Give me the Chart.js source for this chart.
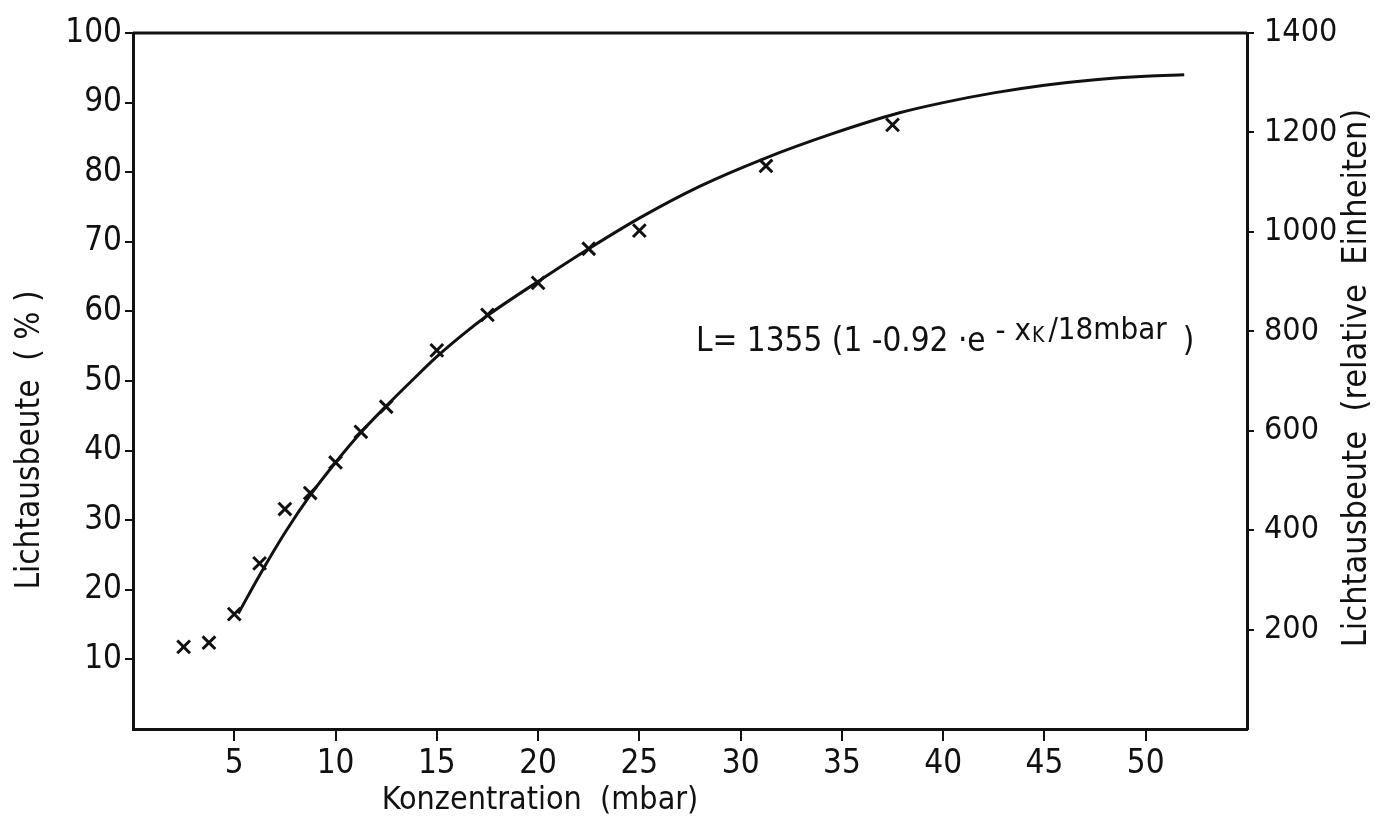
<!DOCTYPE html>
<html>
<head>
<meta charset="utf-8">
<script src="https://cdn.jsdelivr.net/npm/chart.js@4.4.1/dist/chart.umd.min.js"></script>
<style>
  html, body { margin: 0; padding: 0; background: #ffffff; }
  #wrap { width: 1384px; height: 830px; position: relative; }
</style>
</head>
<body>
<div id="wrap"><canvas id="c" width="1384" height="830"></canvas></div>
<script>
// ---- data ----
const measX = [2.5, 3.75, 5, 6.25, 7.5, 8.75, 10, 11.25, 12.5, 15, 17.5, 20, 22.5, 25, 31.25, 37.5];
const measY = [11.8, 12.4, 16.5, 23.8, 31.6, 33.9, 38.3, 42.7, 46.3, 54.4, 59.5, 64.1, 69.0, 71.6, 80.9, 86.8];
const curveX = [5.2, 6.25, 7.5, 8.75, 10, 11.25, 12.5, 13.75, 15, 16.25, 17.5, 20, 22.5, 25, 28, 31.2, 34.5, 37.8, 40, 42.5, 45, 47.5, 50, 51.9];
const curveY = [16.6, 22.1, 28.2, 33.6, 38.3, 42.6, 46.4, 50.0, 53.5, 56.6, 59.4, 64.3, 69.0, 73.4, 78.0, 82.0, 85.5, 88.5, 90.0, 91.4, 92.5, 93.3, 93.8, 94.0];
const xTicks = [5, 10, 15, 20, 25, 30, 35, 40, 45, 50];
const yLeftTicks = [10, 20, 30, 40, 50, 60, 70, 80, 90, 100];
const yRightTicks = [200, 400, 600, 800, 1000, 1200, 1400];
const xTitle = 'Konzentration  (mbar)';
const yLeftTitle = 'Lichtausbeute  ( % )';
const yRightTitle = 'Lichtausbeute  (relative  Einheiten)';

const FONT = '"DejaVu Sans Condensed", "Liberation Sans", sans-serif';
const INK = '#111111';

const textPlugin = {
  id: 'texts',
  afterDraw(chart) {
    const ctx = chart.ctx;
    const a = chart.chartArea;
    ctx.save();
    // top frame line
    ctx.strokeStyle = INK;
    ctx.lineWidth = 3;
    ctx.beginPath();
    ctx.moveTo(a.left, a.top);
    ctx.lineTo(a.right, a.top);
    ctx.stroke();

    ctx.fillStyle = INK;
    ctx.textBaseline = 'middle';
    ctx.textAlign = 'center';
    // x title
    ctx.font = '32px ' + FONT;
    ctx.fillText(xTitle, 540, 801);
    // left title
    ctx.save();
    ctx.translate(30, 440);
    ctx.rotate(-Math.PI / 2);
    ctx.font = '33px ' + FONT;
    ctx.fillText(yLeftTitle, 0, 0);
    ctx.restore();
    // right title
    ctx.save();
    ctx.translate(1357, 378);
    ctx.rotate(-Math.PI / 2);
    ctx.font = '34px ' + FONT;
    ctx.fillText(yRightTitle, 0, 0);
    ctx.restore();

    // formula
    ctx.textAlign = 'left';
    ctx.textBaseline = 'alphabetic';
    let x = 696;
    const base = 351;
    ctx.font = '33px ' + FONT;
    const p1 = 'L= 1355 (1 -0.92 \u00b7e';
    ctx.fillText(p1, x, base);
    x += ctx.measureText(p1).width + 10;
    ctx.font = '31px ' + FONT;
    const p2 = '- x';
    ctx.fillText(p2, x, base - 11);
    x += ctx.measureText(p2).width + 1;
    ctx.font = '21px ' + FONT;
    ctx.fillText('K', x, base - 9);
    x += ctx.measureText('K').width + 4;
    ctx.font = '31px ' + FONT;
    const p3 = '/18mbar';
    ctx.fillText(p3, x, base - 12);
    x += ctx.measureText(p3).width + 16;
    ctx.font = '33px ' + FONT;
    ctx.fillText(')', x, base);
    ctx.restore();
  }
};

const tickColor = (allowed) => (c) => (c.tick && allowed.includes(c.tick.value)) ? INK : 'rgba(0,0,0,0)';

new Chart(document.getElementById('c'), {
  type: 'scatter',
  data: {
    datasets: [
      {
        label: 'Messwerte',
        data: measX.map((v, i) => ({ x: v, y: measY[i] })),
        pointStyle: 'crossRot',
        pointRadius: 9,
        pointBorderWidth: 3,
        borderColor: INK,
        backgroundColor: INK,
        showLine: false,
        yAxisID: 'y'
      },
      {
        label: 'Kurve',
        data: curveX.map((v, i) => ({ x: v, y: curveY[i] })),
        showLine: true,
        pointRadius: 0,
        borderColor: INK,
        borderWidth: 3,
        cubicInterpolationMode: 'monotone',
        fill: false,
        yAxisID: 'y'
      }
    ]
  },
  options: {
    responsive: false,
    animation: false,
    devicePixelRatio: 1,
    layout: { padding: { top: 33, left: 0, right: 0, bottom: 0 } },
    plugins: { legend: { display: false }, tooltip: { enabled: false } },
    scales: {
      x: {
        type: 'linear',
        min: 0, max: 55,
        afterBuildTicks: (s) => { s.ticks = [0].concat(xTicks, [55]).map(v => ({ value: v })); },
        afterFit: (s) => { s.height = 101; },
        ticks: {
          color: INK,
          font: { family: FONT, size: 33 },
          padding: 4,
          maxRotation: 0,
          callback: (v) => xTicks.includes(v) ? String(v) : ''
        },
        grid: { drawOnChartArea: false, drawTicks: true, tickLength: 12, lineWidth: 2, color: tickColor(xTicks) },
        border: { display: true, color: INK, width: 3 }
      },
      y: {
        type: 'linear',
        position: 'left',
        min: 0, max: 100,
        afterBuildTicks: (s) => { s.ticks = [0].concat(yLeftTicks).map(v => ({ value: v })); },
        afterFit: (s) => { s.width = 133; },
        ticks: {
          color: INK,
          font: { family: FONT, size: 33 },
          padding: 3,
          callback: (v) => yLeftTicks.includes(v) ? String(v) : ''
        },
        grid: { drawOnChartArea: false, drawTicks: true, tickLength: 8, lineWidth: 2, color: tickColor(yLeftTicks) },
        border: { display: true, color: INK, width: 3 }
      },
      y2: {
        type: 'linear',
        position: 'right',
        min: 0, max: 1400,
        afterBuildTicks: (s) => { s.ticks = [0].concat(yRightTicks).map(v => ({ value: v })); },
        afterFit: (s) => { s.width = 137; },
        ticks: {
          color: INK,
          font: { family: FONT, size: 32 },
          padding: 10,
          callback: (v) => yRightTicks.includes(v) ? String(v) : ''
        },
        grid: { drawOnChartArea: false, drawTicks: true, tickLength: 7, lineWidth: 2, color: tickColor(yRightTicks) },
        border: { display: true, color: INK, width: 3 }
      }
    }
  },
  plugins: [textPlugin]
});
</script>
</body>
</html>
